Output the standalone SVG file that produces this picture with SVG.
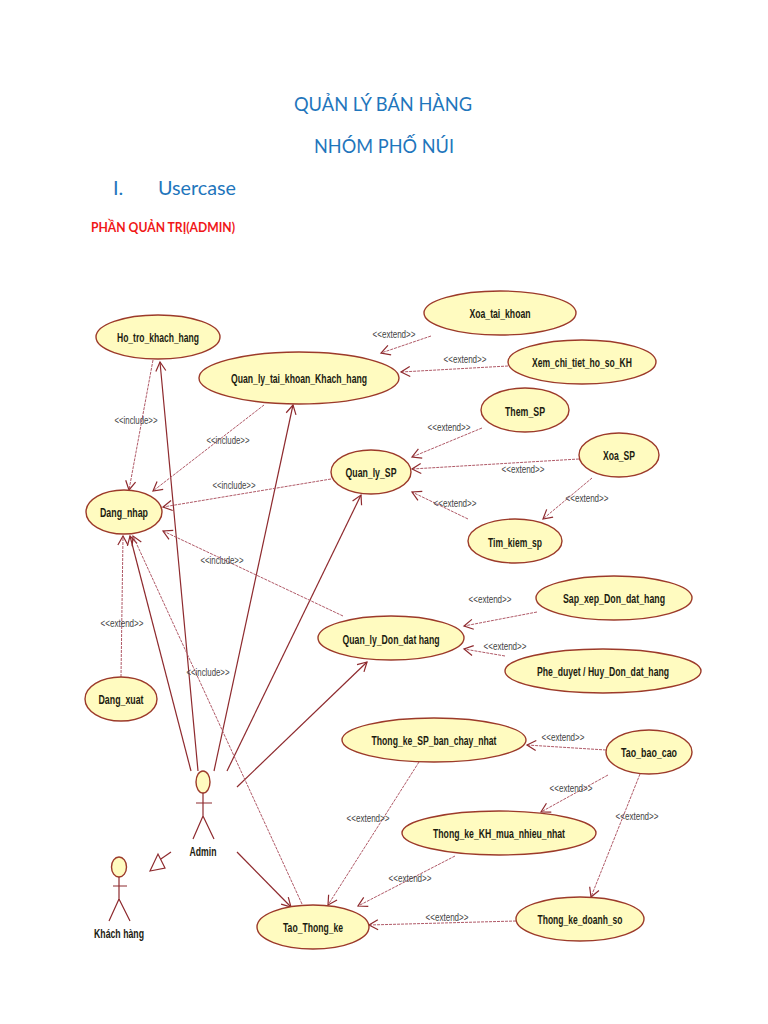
<svg xmlns="http://www.w3.org/2000/svg" width="768" height="1024" viewBox="0 0 768 1024">
<style>
.uc{fill:#FFFBC0;stroke:#9C3A2A;stroke-width:1.4}
.t{font-family:"Liberation Sans",Arial,sans-serif;font-weight:700;font-size:13px;fill:#1c1c10;text-anchor:middle}
.s{font-family:"Liberation Sans",Arial,sans-serif;font-size:10.5px;fill:#444;text-anchor:middle}
.h{font-family:Lato,"Noto Sans",sans-serif;font-size:20px;fill:#1F76BC}
.r{font-family:Lato,"Noto Sans",sans-serif;font-size:13.5px;font-weight:700;fill:#F01818}
.a{fill:none;stroke:#8E2A2E;stroke-width:1.2;marker-end:url(#o)}
.d{fill:none;stroke:#B05A68;stroke-width:1;stroke-dasharray:3 1;marker-end:url(#o)}
.b{fill:none;stroke:#8E2A2E;stroke-width:1.2}
</style>
<defs>
<marker id="o" markerUnits="userSpaceOnUse" markerWidth="14" markerHeight="14" viewBox="-11 -7 14 14" refX="0" refY="0" orient="auto"><path d="M-9,-5 L0,0 L-9,5" fill="none" stroke="#8E2A2E" stroke-width="1.2"/></marker>
</defs>
<rect width="768" height="1024" fill="#fff"/>
<g id="titles">
<text class="h" x="294" y="111" textLength="178" lengthAdjust="spacingAndGlyphs">QUẢN LÝ BÁN HÀNG</text>
<text class="h" x="314" y="153" textLength="140" lengthAdjust="spacingAndGlyphs">NHÓM PHỐ NÚI</text>
<text class="h" x="113" y="195">I.</text>
<text class="h" x="158" y="195" textLength="78" lengthAdjust="spacingAndGlyphs">Usercase</text>
<text class="r" x="91" y="232" textLength="144" lengthAdjust="spacingAndGlyphs">PHẦN QUẢN TRỊ(ADMIN)</text>
</g>
<g id="connectors">
<path class="a" d="M191,771L130,536"/>
<path class="a" d="M198,771L160,362"/>
<path class="a" d="M214,771L293,405"/>
<path class="a" d="M227,771L361,495"/>
<path class="a" d="M237,787L367,662"/>
<path class="a" d="M237,852L291,907"/>
<path class="d" d="M153,360L129,490"/>
<path class="d" d="M264,405L153,491"/>
<path class="d" d="M331,479L163,507"/>
<path class="d" d="M343,616L163,531"/>
<path class="d" d="M121,677L123,536"/>
<path class="d" d="M302,904L133,536"/>
<path class="d" d="M431,336L381,353"/>
<path class="d" d="M508,366L401,372"/>
<path class="d" d="M482,428L412,457"/>
<path class="d" d="M579,459L412,469"/>
<path class="d" d="M468,519L412,492"/>
<path class="d" d="M592,478L543,519"/>
<path class="d" d="M537,612L464,626"/>
<path class="d" d="M505,656L464,649"/>
<path class="d" d="M606,750L527,745"/>
<path class="d" d="M608,775L541,812"/>
<path class="d" d="M640,774L591,897"/>
<path class="d" d="M419,762L328,905"/>
<path class="d" d="M455,856L358,906"/>
<path class="d" d="M516,921L369,925"/>
<path d="M171,852L158,861" fill="none" stroke="#8E2A2E" stroke-width="1.2"/>
<path d="M150,871L158,854L165,868Z" fill="#fff" stroke="#8E2A2E" stroke-width="1.2"/>
<text class="s" x="136" y="424" textLength="43" lengthAdjust="spacingAndGlyphs">&lt;&lt;include&gt;&gt;</text>
<text class="s" x="228" y="444" textLength="43" lengthAdjust="spacingAndGlyphs">&lt;&lt;include&gt;&gt;</text>
<text class="s" x="234" y="489" textLength="43" lengthAdjust="spacingAndGlyphs">&lt;&lt;include&gt;&gt;</text>
<text class="s" x="222" y="564" textLength="43" lengthAdjust="spacingAndGlyphs">&lt;&lt;include&gt;&gt;</text>
<text class="s" x="208" y="676" textLength="43" lengthAdjust="spacingAndGlyphs">&lt;&lt;include&gt;&gt;</text>
<text class="s" x="122" y="627" textLength="43" lengthAdjust="spacingAndGlyphs">&lt;&lt;extend&gt;&gt;</text>
<text class="s" x="394" y="338" textLength="43" lengthAdjust="spacingAndGlyphs">&lt;&lt;extend&gt;&gt;</text>
<text class="s" x="465" y="363" textLength="43" lengthAdjust="spacingAndGlyphs">&lt;&lt;extend&gt;&gt;</text>
<text class="s" x="449" y="431" textLength="43" lengthAdjust="spacingAndGlyphs">&lt;&lt;extend&gt;&gt;</text>
<text class="s" x="523" y="473" textLength="43" lengthAdjust="spacingAndGlyphs">&lt;&lt;extend&gt;&gt;</text>
<text class="s" x="455" y="507" textLength="43" lengthAdjust="spacingAndGlyphs">&lt;&lt;extend&gt;&gt;</text>
<text class="s" x="587" y="502" textLength="43" lengthAdjust="spacingAndGlyphs">&lt;&lt;extend&gt;&gt;</text>
<text class="s" x="490" y="603" textLength="43" lengthAdjust="spacingAndGlyphs">&lt;&lt;extend&gt;&gt;</text>
<text class="s" x="505" y="650" textLength="43" lengthAdjust="spacingAndGlyphs">&lt;&lt;extend&gt;&gt;</text>
<text class="s" x="563" y="741" textLength="43" lengthAdjust="spacingAndGlyphs">&lt;&lt;extend&gt;&gt;</text>
<text class="s" x="571" y="792" textLength="43" lengthAdjust="spacingAndGlyphs">&lt;&lt;extend&gt;&gt;</text>
<text class="s" x="637" y="820" textLength="43" lengthAdjust="spacingAndGlyphs">&lt;&lt;extend&gt;&gt;</text>
<text class="s" x="368" y="822" textLength="43" lengthAdjust="spacingAndGlyphs">&lt;&lt;extend&gt;&gt;</text>
<text class="s" x="410" y="882" textLength="43" lengthAdjust="spacingAndGlyphs">&lt;&lt;extend&gt;&gt;</text>
<text class="s" x="447" y="921" textLength="43" lengthAdjust="spacingAndGlyphs">&lt;&lt;extend&gt;&gt;</text>
</g>
<g id="ho_tro"><ellipse class="uc" cx="158" cy="337" rx="62" ry="22"/><text class="t" x="158" y="342" textLength="82" lengthAdjust="spacingAndGlyphs">Ho_tro_khach_hang</text></g>
<g id="ql_tk"><ellipse class="uc" cx="299" cy="378" rx="100" ry="26"/><text class="t" x="299" y="383" textLength="136" lengthAdjust="spacingAndGlyphs">Quan_ly_tai_khoan_Khach_hang</text></g>
<g id="ql_sp"><ellipse class="uc" cx="371" cy="472" rx="40" ry="22"/><text class="t" x="371" y="477" textLength="51" lengthAdjust="spacingAndGlyphs">Quan_ly_SP</text></g>
<g id="dang_nhap"><ellipse class="uc" cx="124" cy="512" rx="38" ry="22"/><text class="t" x="124" y="517" textLength="48" lengthAdjust="spacingAndGlyphs">Dang_nhap</text></g>
<g id="xoa_tk"><ellipse class="uc" cx="500" cy="313" rx="76" ry="22"/><text class="t" x="500" y="318" textLength="61" lengthAdjust="spacingAndGlyphs">Xoa_tai_khoan</text></g>
<g id="xem_kh"><ellipse class="uc" cx="582" cy="362" rx="74" ry="22"/><text class="t" x="582" y="367" textLength="100" lengthAdjust="spacingAndGlyphs">Xem_chi_tiet_ho_so_KH</text></g>
<g id="them_sp"><ellipse class="uc" cx="525" cy="410" rx="44" ry="22"/><text class="t" x="525" y="416" textLength="40" lengthAdjust="spacingAndGlyphs">Them_SP</text></g>
<g id="xoa_sp"><ellipse class="uc" cx="619" cy="455" rx="40" ry="22"/><text class="t" x="619" y="460" textLength="32" lengthAdjust="spacingAndGlyphs">Xoa_SP</text></g>
<g id="tim_sp"><ellipse class="uc" cx="515" cy="541" rx="47" ry="22"/><text class="t" x="515" y="547" textLength="54" lengthAdjust="spacingAndGlyphs">Tim_kiem_sp</text></g>
<g id="dang_xuat"><ellipse class="uc" cx="121" cy="699" rx="36" ry="22"/><text class="t" x="121" y="704" textLength="45" lengthAdjust="spacingAndGlyphs">Dang_xuat</text></g>
<g id="tao_tk"><ellipse class="uc" cx="313" cy="927" rx="56" ry="22"/><text class="t" x="313" y="932" textLength="60" lengthAdjust="spacingAndGlyphs">Tao_Thong_ke</text></g>
<g id="sap_xep"><ellipse class="uc" cx="614" cy="598" rx="78" ry="22"/><text class="t" x="614" y="603" textLength="102" lengthAdjust="spacingAndGlyphs">Sap_xep_Don_dat_hang</text></g>
<g id="ql_don"><ellipse class="uc" cx="391" cy="638" rx="73" ry="22"/><text class="t" x="391" y="644" textLength="97" lengthAdjust="spacingAndGlyphs">Quan_ly_Don_dat hang</text></g>
<g id="phe_duyet"><ellipse class="uc" cx="603" cy="671" rx="98" ry="22"/><text class="t" x="603" y="676" textLength="132" lengthAdjust="spacingAndGlyphs">Phe_duyet / Huy_Don_dat_hang</text></g>
<g id="tk_sp"><ellipse class="uc" cx="434" cy="740" rx="92" ry="22"/><text class="t" x="434" y="745" textLength="125" lengthAdjust="spacingAndGlyphs">Thong_ke_SP_ban_chay_nhat</text></g>
<g id="tao_bc"><ellipse class="uc" cx="649" cy="752" rx="43" ry="22"/><text class="t" x="649" y="757" textLength="56" lengthAdjust="spacingAndGlyphs">Tao_bao_cao</text></g>
<g id="tk_kh"><ellipse class="uc" cx="499" cy="833" rx="97" ry="22"/><text class="t" x="499" y="838" textLength="132" lengthAdjust="spacingAndGlyphs">Thong_ke_KH_mua_nhieu_nhat</text></g>
<g id="tk_ds"><ellipse class="uc" cx="580" cy="919" rx="64" ry="22"/><text class="t" x="580" y="924" textLength="85" lengthAdjust="spacingAndGlyphs">Thong_ke_doanh_so</text></g>
<g id="admin"><ellipse class="uc" cx="203" cy="782" rx="7" ry="11"/><path class="b" d="M203,793V816M196,803H212M203,816L193,839M203,816L214,839"/><text class="t" x="203" y="856" textLength="27" lengthAdjust="spacingAndGlyphs">Admin</text></g>
<g id="khach_hang"><ellipse class="uc" cx="119" cy="867" rx="7.5" ry="10"/><path class="b" d="M119,877V899M113,886H127M119,899L109,921M119,899L130,921"/><text class="t" x="119" y="938" textLength="50" lengthAdjust="spacingAndGlyphs">Khách hàng</text></g>
</svg>
